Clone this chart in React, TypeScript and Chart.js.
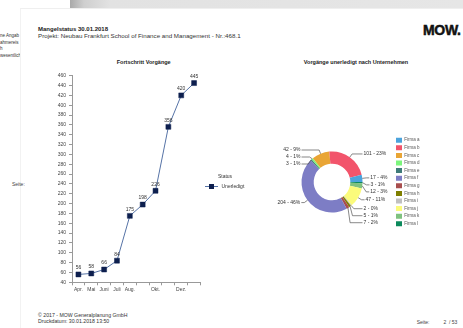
import React, { useEffect, useRef } from 'react';
import { Chart, registerables } from 'chart.js';

Chart.register(...registerables);

const FONT = '"Liberation Sans", Arial, Helvetica, sans-serif';
const LINE_BLUE = '#5673a6';
const NAVY = '#0d1f4e';

// Fortschritt Vorgänge: offene Vorgänge je Monat
const months = ['Apr.', 'Mai', 'Juni', 'Juli', 'Aug.', 'Sep.', 'Okt.', 'Nov.', 'Dez.', 'Jan.'];
const monthTickLabels = ['Apr.', 'Mai', 'Juni', 'Juli', 'Aug.', 'Okt.', 'Dez.'];
const openIssues = [56, 58, 66, 84, 175, 198, 226, 356, 420, 445];
const yAxisMin = 40;
const yAxisMax = 460;
const yAxisStep = 20;
const seriesName = 'Unerledigt';
const legendTitle = 'Status';

// Vorgänge unerledigt nach Unternehmen
const firms = ['Firma a', 'Firma b', 'Firma c', 'Firma d', 'Firma e', 'Firma f', 'Firma g', 'Firma h', 'Firma i', 'Firma j', 'Firma k', 'Firma l'];
const firmOpen = [17, 101, 42, 4, 3, 204, 7, 5, 2, 47, 12, 3];
const firmColors = ['#4ba3dc', '#f2546b', '#e9a535', '#7cf67c', '#3f7b79', '#7d7dc5', '#a84e4e', '#7f7f00', '#c0c0c0', '#fbfb7b', '#7fc27f', '#0c8a5c'];

type TxtProps = {
  x: number;
  y: number;
  size: number;
  bold?: boolean;
  color?: string;
  align?: 'left' | 'center' | 'right';
  children: React.ReactNode;
  extra?: React.CSSProperties;
};

function Txt({ x, y, size, bold, color = '#222', align = 'left', children, extra }: TxtProps) {
  const style: React.CSSProperties = {
    position: 'absolute',
    top: y - size * 0.6,
    fontSize: size,
    lineHeight: `${size * 1.2}px`,
    fontWeight: bold ? 700 : 400,
    color,
    whiteSpace: 'nowrap',
    fontFamily: FONT,
    ...extra,
  };
  if (align === 'left') style.left = x;
  if (align === 'center') {
    style.left = x;
    style.transform = 'translateX(-50%)';
  }
  if (align === 'right') style.right = 463 - x;
  return <div style={style}>{children}</div>;
}

function ProgressChart() {
  const ref = useRef<HTMLCanvasElement>(null);
  useEffect(() => {
    // legend symbol: line with square marker
    const marker = document.createElement('canvas');
    marker.width = 13;
    marker.height = 7;
    const m = marker.getContext('2d')!;
    m.strokeStyle = LINE_BLUE;
    m.lineWidth = 1;
    m.beginPath();
    m.moveTo(0, 3.5);
    m.lineTo(13, 3.5);
    m.stroke();
    m.fillStyle = NAVY;
    m.fillRect(4, 1, 5, 5);

    const valueLabels = {
      id: 'valueLabels',
      afterDatasetsDraw(chart: any) {
        const ctx = chart.ctx as CanvasRenderingContext2D;
        const meta = chart.getDatasetMeta(0);
        const data = chart.data.datasets[0].data as number[];
        ctx.save();
        ctx.font = `5px ${FONT}`;
        ctx.fillStyle = '#333';
        ctx.textAlign = 'center';
        ctx.textBaseline = 'middle';
        meta.data.forEach((pt: any, i: number) => {
          ctx.fillText(String(data[i]), pt.x, pt.y - 6.5);
        });
        ctx.restore();
      },
    };

    const chart = new Chart(ref.current!, {
      type: 'line',
      data: {
        labels: months,
        datasets: [
          {
            label: seriesName,
            data: openIssues,
            borderColor: LINE_BLUE,
            borderWidth: 1,
            tension: 0,
            pointStyle: 'rect',
            pointRadius: 3.5,
            pointBackgroundColor: NAVY,
            pointBorderColor: NAVY,
            pointBorderWidth: 0.5,
          },
        ],
      },
      options: {
        responsive: false,
        animation: false,
        devicePixelRatio: 1,
        layout: { padding: { left: 0, top: 20.7, right: 10.5, bottom: 7.7 } },
        scales: {
          x: {
            offset: true,
            grid: { offset: true, drawOnChartArea: false, tickLength: 3, color: '#999' },
            border: { color: '#999' },
            ticks: {
              autoSkip: false,
              maxRotation: 0,
              padding: 1,
              color: '#444',
              font: { size: 5, family: FONT },
              callback: function (this: any, v: any) {
                const l = this.getLabelForValue(v);
                return monthTickLabels.includes(l) ? l : '';
              },
            },
            afterFit: (s: any) => {
              s.height = 15;
            },
          },
          y: {
            min: yAxisMin,
            max: yAxisMax,
            grid: { drawOnChartArea: false, tickLength: 3, color: '#999' },
            border: { color: '#999' },
            ticks: {
              stepSize: yAxisStep,
              autoSkip: false,
              padding: 3,
              color: '#444',
              font: { size: 5, family: FONT },
            },
            afterFit: (s: any) => {
              s.width = 44;
            },
          },
        },
        plugins: {
          legend: {
            position: 'right',
            fullSize: false,
            maxWidth: 49,
            title: {
              display: true,
              text: legendTitle,
              color: '#333',
              font: { size: 5, family: FONT },
              padding: { top: 9, bottom: 0 },
            },
            labels: {
              usePointStyle: true,
              pointStyleWidth: 15,
              padding: 3.5,
              color: '#333',
              textAlign: 'left',
              font: { size: 5, family: FONT },
              generateLabels: (c: any) =>
                Chart.defaults.plugins.legend.labels
                  .generateLabels(c)
                  .map((it: any) => ({ ...it, pointStyle: marker })),
            },
          },
          tooltip: { enabled: false },
        },
      },
      plugins: [valueLabels],
    } as any);
    return () => chart.destroy();
  }, []);
  return (
    <canvas
      ref={ref}
      width={232}
      height={250}
      style={{ position: 'absolute', left: 28, top: 55, width: 232, height: 250 }}
    />
  );
}

function FirmChart() {
  const ref = useRef<HTMLCanvasElement>(null);
  useEffect(() => {
    // outside labels with elbow leader lines
    const sliceLabels = {
      id: 'sliceLabels',
      afterDatasetsDraw(chart: any) {
        const ctx = chart.ctx as CanvasRenderingContext2D;
        const values = chart.data.datasets[0].data as number[];
        const total = values.reduce((a, b) => a + b, 0);
        const arcs = chart.getDatasetMeta(0).data as any[];
        const items = arcs.map((arc, i) => {
          const p = arc.getProps(['x', 'y', 'startAngle', 'endAngle', 'outerRadius'], true);
          const mid = (p.startAngle + p.endAngle) / 2;
          const c = Math.cos(mid);
          const s = Math.sin(mid);
          return {
            cx: p.x,
            r: p.outerRadius,
            ax: p.x + p.outerRadius * c,
            ay: p.y + p.outerRadius * s,
            ex: p.x + (p.outerRadius + 4) * c,
            ny: p.y + (p.outerRadius + 4) * s,
            y: 0,
            right: c >= 0,
            text: `${values[i]} - ${Math.round((values[i] / total) * 100)}%`,
          };
        });
        for (const side of [true, false]) {
          const group = items.filter((it) => it.right === side).sort((a, b) => a.ny - b.ny);
          let last = -Infinity;
          for (const it of group) {
            it.y = Math.max(it.ny, last + 7);
            last = it.y;
          }
        }
        ctx.save();
        ctx.strokeStyle = '#555';
        ctx.lineWidth = 0.7;
        ctx.fillStyle = '#333';
        ctx.font = `5px ${FONT}`;
        ctx.textBaseline = 'middle';
        for (const it of items) {
          const tx = it.right ? Math.max(it.cx + it.r + 1, it.ex + 4) : Math.min(it.cx - it.r - 1, it.ex - 4);
          ctx.beginPath();
          ctx.moveTo(it.ax, it.ay);
          ctx.lineTo(it.ex, it.y);
          ctx.lineTo(it.right ? tx - 1 : tx + 1, it.y);
          ctx.stroke();
          ctx.textAlign = it.right ? 'left' : 'right';
          ctx.fillText(it.text, tx, it.y);
        }
        ctx.restore();
      },
    };

    const chart = new Chart(ref.current!, {
      type: 'doughnut',
      data: {
        labels: [...firms].reverse(),
        datasets: [
          {
            data: [...firmOpen].reverse(),
            backgroundColor: [...firmColors].reverse(),
            borderWidth: 0,
          },
        ],
      },
      options: {
        responsive: false,
        animation: false,
        devicePixelRatio: 1,
        rotation: 90,
        radius: 30.5,
        cutout: '60%',
        layout: { padding: { left: 20.6, right: 38.6, top: 0, bottom: 0 } },
        plugins: {
          legend: {
            position: 'right',
            fullSize: false,
            reverse: true,
            maxWidth: 30,
            labels: {
              boxWidth: 6,
              boxHeight: 5,
              padding: 2.6,
              color: '#555',
              textAlign: 'left',
              font: { size: 4.5, family: FONT },
            },
          },
          tooltip: { enabled: false },
        },
      },
      plugins: [sliceLabels],
    } as any);
    return () => chart.destroy();
  }, []);
  return (
    <canvas
      ref={ref}
      width={212}
      height={164}
      style={{ position: 'absolute', left: 250, top: 100, width: 212, height: 164 }}
    />
  );
}

export default function App() {
  return (
    <div
      style={{
        position: 'fixed',
        left: 0,
        top: 0,
        width: 463,
        height: 328,
        background: '#fff',
        overflow: 'hidden',
        fontFamily: FONT,
      }}
    >
      {/* page behind: grey strip at the top */}
      <div
        style={{
          position: 'absolute',
          left: 70,
          top: 0,
          width: 393,
          height: 8,
          background: 'linear-gradient(to right, #a9a9a9 0px, #cfcfcf 14px, #e2e2e2 40px, #e6e6e6 100%)',
        }}
      />
      {/* page behind: text at the left margin */}
      <div style={{ position: 'absolute', left: 0, top: 0, width: 20, height: 328, overflow: 'hidden' }}>
        <Txt x={0} y={36} size={4.5} color="#333">ne Angab</Txt>
        <Txt x={0} y={42.5} size={4.5} color="#333">ahmereis</Txt>
        <Txt x={0} y={49} size={4.5} color="#333">h</Txt>
        <Txt x={0} y={56} size={4.5} color="#333">wesentlich</Txt>
      </div>
      {/* front page edge */}
      <div
        style={{
          position: 'absolute',
          left: 20,
          top: 8,
          width: 443,
          height: 320,
          borderLeft: '1px solid #f2f2f2',
          borderTop: '1px solid #efefef',
          background: '#fff',
        }}
      />
      <Txt x={12} y={184} size={5} color="#444">Seite:</Txt>

      {/* header */}
      <Txt x={38} y={29.5} size={6} bold color="#222">Mangelstatus 30.01.2018</Txt>
      <Txt x={38} y={36} size={6.2} color="#333">Projekt: Neubau Frankfurt School of Finance and Management - Nr.:468.1</Txt>
      <Txt x={423} y={30.5} size={14} bold color="#111" extra={{ WebkitTextStroke: '0.5px #111', letterSpacing: '-0.3px' }}>
        MOW.
      </Txt>

      {/* chart titles */}
      <Txt x={143.7} y={62} size={5.5} bold align="center" color="#222">Fortschritt Vorgänge</Txt>
      <Txt x={356} y={62} size={5.5} bold align="center" color="#222">Vorgänge unerledigt nach Unternehmen</Txt>

      <ProgressChart />
      <FirmChart />

      {/* footer */}
      <Txt x={38} y={315.3} size={5.2} color="#333">© 2017 - MOW Generalplanung GmbH</Txt>
      <Txt x={38} y={321.3} size={5.2} color="#333">Druckdatum: 30.01.2018 13:50</Txt>
      <Txt x={416.7} y={322.3} size={5} color="#444">Seite:</Txt>
      <Txt x={443.5} y={322.3} size={5} color="#444">2</Txt>
      <Txt x={449} y={322.3} size={5} color="#444">/ 53</Txt>
    </div>
  );
}
